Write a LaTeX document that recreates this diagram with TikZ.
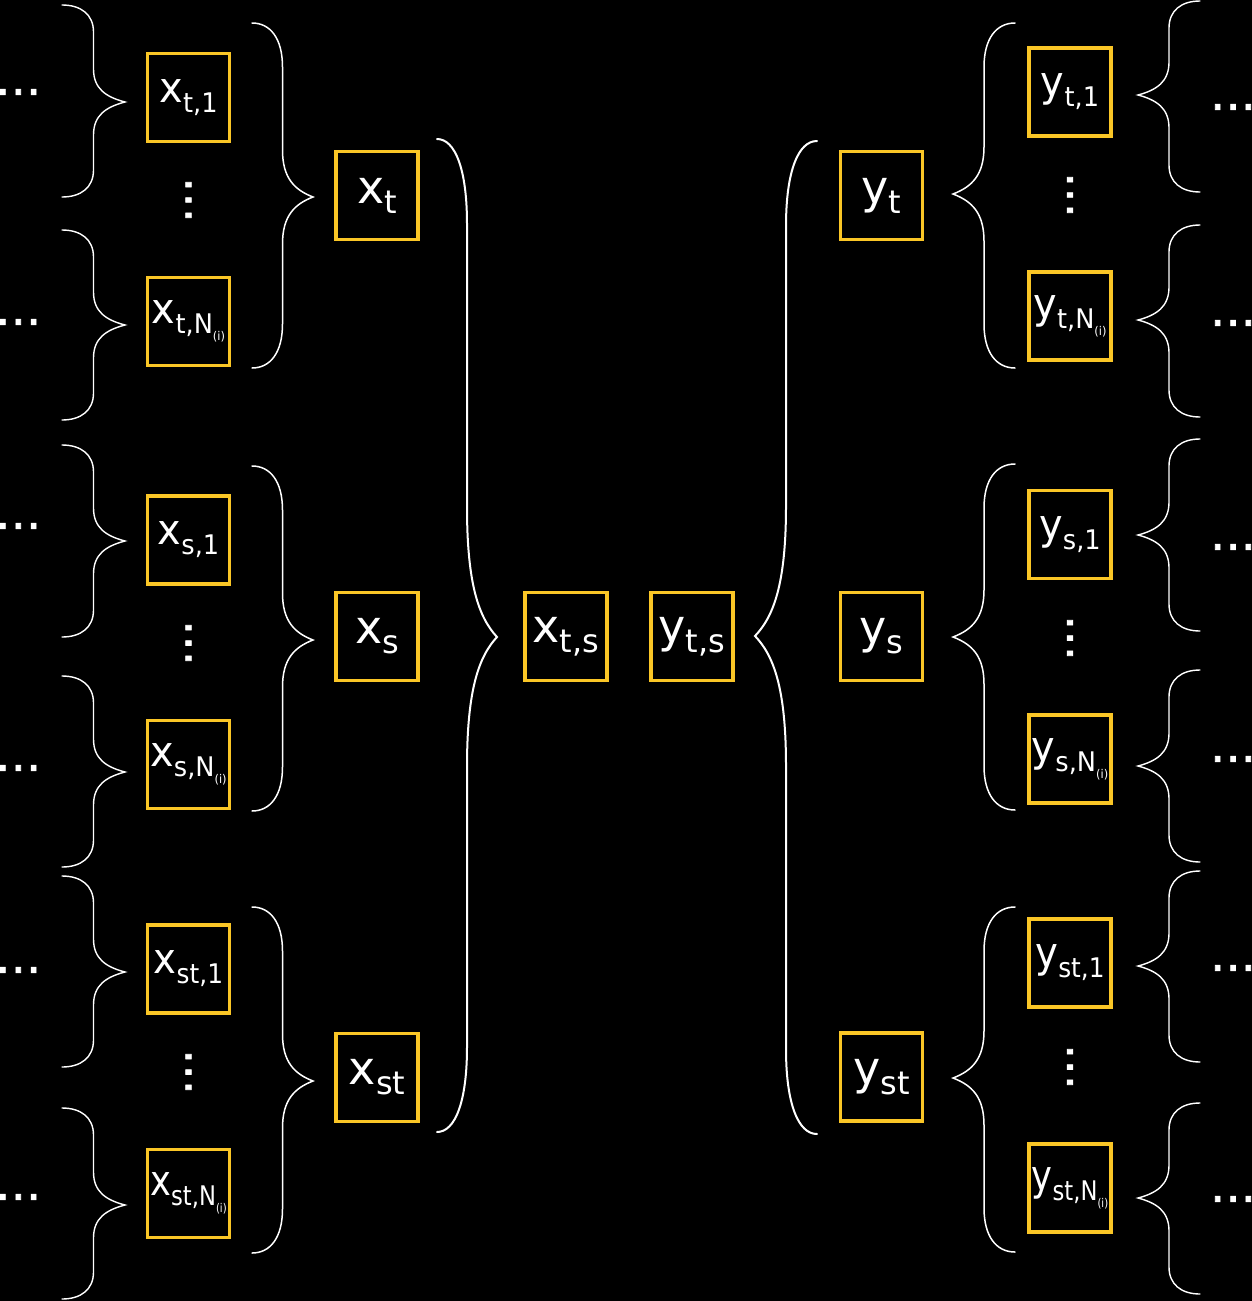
\documentclass[tikz,border=0pt]{standalone}
\usepackage{fontspec}
\setmainfont{DejaVu Sans}
\newfontfamily\dotfont{DejaVu Sans}[FakeBold=1.6]
\usepackage{graphicx}
\definecolor{boxc}{RGB}{250,198,38}
\newcommand\labL[2]{{\fontsize{46}{46}\selectfont #1}\raisebox{-10pt}{\fontsize{32}{32}\selectfont #2}}
\newcommand\labS[3][0.95]{\scalebox{#1}[1]{{\fontsize{42}{42}\selectfont #2}\raisebox{-10pt}{\fontsize{27}{27}\selectfont #3}}}
\newcommand\labN[3][0.95]{\scalebox{#1}[1]{{\fontsize{42}{42}\selectfont #2}\raisebox{-10pt}{\fontsize{27}{27}\selectfont #3,N}\raisebox{-17pt}{\fontsize{12}{12}\selectfont (i)}}}
% curly brace: #1 x of ends, #2 x of tip, #3 top y, #4 tip y, #5 bottom y, #6 end-curve length, #7 tip-curve length, #8 line width
\newcommand\curly[8]{%
  \pgfmathsetmacro\cxs{(#1+#2)/2}%
  \pgfmathsetmacro\cd{(#2-#1)/2}%
  \draw[bracestyle, line width=#8]
    (#1,#3) .. controls ({#1+0.6*\cd},#3) and (\cxs,{#3+0.35*#6}) .. (\cxs,{#3+#6})
    -- (\cxs,{#4-#7}) .. controls (\cxs,{#4-0.4*#7}) and ({#2-0.6*\cd},{#4-0.15*#7}) .. (#2,#4)
    .. controls ({#2-0.6*\cd},{#4+0.15*#7}) and (\cxs,{#4+0.4*#7}) .. (\cxs,{#4+#7})
    -- (\cxs,{#5-#6}) .. controls (\cxs,{#5-0.35*#6}) and ({#1+0.6*\cd},#5) .. (#1,#5);}
\tikzset{
  bx/.style={draw=boxc, line width=3.4pt, minimum width=82pt, minimum height=88pt, inner sep=0pt, text=white},
  dotsn/.style={inner sep=0pt, text=white, font=\dotfont\fontsize{46}{46}\selectfont},
  bracestyle/.style={draw=white, line join=miter, line cap=round}
}
\begin{document}
\begin{tikzpicture}[x=1pt,y=-1pt]
\fill[black] (0,0) rectangle (1252,1301);
\useasboundingbox (0,0) rectangle (1252,1301);

% ---------- left small boxes ----------
\node[bx] (xt1)  at (188.5,97.5)  {\labS{x}{t,1}};
\node[bx] (xtN)  at (188.5,321.5) {\labN{x}{t}};
\node[bx] (xs1)  at (188.5,540)   {\labS{x}{s,1}};
\node[bx] (xsN)  at (188.5,764.5) {\labN{x}{s}};
\node[bx] (xst1) at (188.5,969)   {\labS[0.92]{x}{st,1}};
\node[bx] (xstN) at (188.5,1193.5){\labN[0.84]{x}{st}};
% ---------- left middle boxes ----------
\node[bx] (xt)  at (377,195.5)  {\labL{x}{t}};
\node[bx] (xs)  at (377,636.5)  {\labL{x}{s}};
\node[bx] (xst) at (377,1077.5) {\labL{x}{st}};
% ---------- centre ----------
\node[bx] (xts) at (566,636.5) {\labL{x}{t,s}};
\node[bx] (yts) at (692,636.5) {\labL{y}{t,s}};
% ---------- right middle boxes ----------
\node[bx] (yt)  at (881.5,195.5)  {\labL{y}{t}};
\node[bx] (ys)  at (881.5,636.5)  {\labL{y}{s}};
\node[bx] (yst) at (881.5,1077)   {\labL{y}{st}};
% ---------- right small boxes ----------
\node[bx] (yt1)  at (1070,92)    {\labS{y}{t,1}};
\node[bx] (ytN)  at (1070,316)   {\labN{y}{t}};
\node[bx] (ys1)  at (1070,534.5) {\labS{y}{s,1}};
\node[bx] (ysN)  at (1070,759)   {\labN{y}{s}};
\node[bx] (yst1) at (1070,963)   {\labS[0.92]{y}{st,1}};
\node[bx] (ystN) at (1070,1188)  {\labN[0.84]{y}{st}};

% ---------- dots ----------
\node[dotsn] (lda) at (18.3,92)   {…};
\node[dotsn] (ldb) at (18.3,322)  {…};
\node[dotsn] (ldc) at (18.3,526)  {…};
\node[dotsn] (ldd) at (18.3,768)  {…};
\node[dotsn] (lde) at (18.3,970)  {…};
\node[dotsn] (ldf) at (18.3,1197) {…};
\node[dotsn] (rda) at (1233,107)  {…};
\node[dotsn] (rdb) at (1233,323)  {…};
\node[dotsn] (rdc) at (1233,547)  {…};
\node[dotsn] (rdd) at (1233,759)  {…};
\node[dotsn] (rde) at (1233,968)  {…};
\node[dotsn] (rdf) at (1233,1199) {…};
\node[dotsn, rotate=90] (lva) at (188.5,200)  {…};
\node[dotsn, rotate=90] (lvb) at (188.5,643)  {…};
\node[dotsn, rotate=90] (lvc) at (188.5,1072) {…};
\node[dotsn, rotate=90] (rva) at (1070,195)  {…};
\node[dotsn, rotate=90] (rvb) at (1070,638)  {…};
\node[dotsn, rotate=90] (rvc) at (1070,1067) {…};

% ---------- braces ----------
% left outer
\curly{62}{125}{5}{102}{197}{27}{33}{1.4pt}
\curly{62}{125}{230}{325}{420}{27}{33}{1.4pt}
\curly{62}{125}{445}{541}{637}{27}{33}{1.4pt}
\curly{62}{125}{676}{772}{867}{27}{33}{1.4pt}
\curly{62}{125}{876}{972}{1067}{27}{33}{1.4pt}
\curly{62}{125}{1108}{1205}{1299}{27}{33}{1.4pt}
% left middle
\curly{252}{313}{23}{197}{368}{44}{47}{1.5pt}
\curly{252}{313}{466}{640}{811}{44}{47}{1.5pt}
\curly{252}{313}{907}{1081}{1253}{44}{47}{1.5pt}
% big braces
\curly{437}{497}{139}{637}{1132}{85}{130}{2pt}
\curly{817}{755}{141}{636}{1134}{85}{130}{2pt}
% right middle
\curly{1015}{953}{23}{194}{368}{44}{47}{1.5pt}
\curly{1015}{953}{464}{637}{810}{44}{47}{1.5pt}
\curly{1015}{953}{907}{1078}{1252}{44}{47}{1.5pt}
% right outer
\curly{1200}{1138}{1}{95}{192}{27}{33}{1.4pt}
\curly{1200}{1138}{225}{320}{417}{27}{33}{1.4pt}
\curly{1200}{1138}{439}{535}{631}{27}{33}{1.4pt}
\curly{1200}{1138}{670}{766}{862}{27}{33}{1.4pt}
\curly{1200}{1138}{871}{966}{1062}{27}{33}{1.4pt}
\curly{1200}{1138}{1103}{1198}{1294}{27}{33}{1.4pt}
\end{tikzpicture}
\end{document}
